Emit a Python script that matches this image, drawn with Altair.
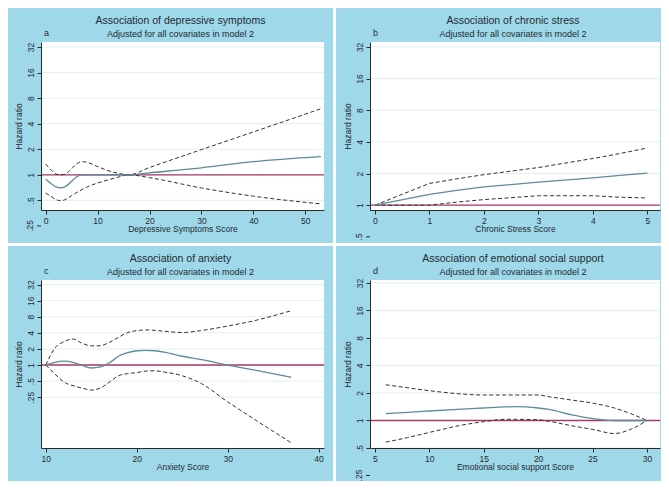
import altair as alt
import pandas as pd

# ---------------- data ----------------
# Panel a: depressive symptoms
a_x  = [0, 1, 2, 3, 4, 5, 6, 7, 8, 10, 12, 14, 16, 20, 30, 40, 53]
a_hr = [0.885, 0.79, 0.72, 0.70, 0.74, 0.84, 0.95, 1.0, 1.0, 1.0, 1.0, 1.0, 1.0, 1.055, 1.21, 1.43, 1.64]
a_lo = [0.61, 0.56, 0.51, 0.495, 0.52, 0.57, 0.62, 0.67, 0.72, 0.80, 0.87, 0.94, 1.0, 0.925, 0.70, 0.56, 0.454]
a_hi = [1.34, 1.15, 1.02, 1.0, 1.04, 1.18, 1.35, 1.43, 1.40, 1.25, 1.12, 1.04, 1.0, 1.22, 1.98, 3.2, 6.0]

# Panel b: chronic stress
b_x  = [0, 1, 1.5, 2, 3, 4, 4.5, 5]
b_hr = [1.0, 1.27, 1.38, 1.49, 1.66, 1.82, 1.92, 2.02]
b_lo = [1.0, 1.0, 1.07, 1.13, 1.23, 1.23, 1.19, 1.17]
b_hi = [1.0, 1.61, 1.78, 1.95, 2.28, 2.78, 3.1, 3.5]

# Panel c: anxiety
c_x  = [10, 11, 12, 13, 14, 15, 16, 17, 18, 19, 20, 21, 22, 23, 25, 27, 30, 33, 37]
c_hr = [1.0, 1.12, 1.18, 1.12, 0.98, 0.88, 0.92, 1.1, 1.46, 1.7, 1.85, 1.88, 1.85, 1.75, 1.46, 1.27, 1.0, 0.8, 0.59]
c_lo = [1.0, 0.68, 0.48, 0.41, 0.37, 0.34, 0.37, 0.48, 0.63, 0.69, 0.72, 0.77, 0.78, 0.74, 0.63, 0.46, 0.205, 0.095, 0.035]
c_hi = [1.0, 2.07, 2.74, 3.06, 2.55, 2.28, 2.3, 2.66, 3.3, 4.05, 4.4, 4.53, 4.45, 4.3, 4.05, 4.4, 5.36, 6.8, 10.4]

# Panel d: emotional social support
d_x  = [6, 8, 10, 13, 15, 17, 18, 20, 21, 23, 25, 27, 28.5, 30]
d_hr = [1.19, 1.23, 1.27, 1.33, 1.37, 1.41, 1.42, 1.37, 1.32, 1.16, 1.05, 1.0, 1.0, 1.0]
d_lo = [0.58, 0.65, 0.74, 0.89, 0.97, 1.03, 1.03, 1.02, 0.98, 0.88, 0.80, 0.72, 0.80, 1.0]
d_hi = [2.46, 2.28, 2.12, 1.95, 1.9, 1.9, 1.9, 1.9, 1.82, 1.68, 1.55, 1.37, 1.19, 1.0]

TITLES = ["Association of depressive symptoms", "Association of chronic stress",
          "Association of anxiety", "Association of emotional social support"]
SUBTITLE = "Adjusted for all covariates in model 2"
LETTERS = ["a", "b", "c", "d"]
XTITLES = ["Depressive Symptoms Score", "Chronic Stress Score",
           "Anxiety Score", "Emotional social support Score"]
Y_TICKS = [0.25, 0.5, 1, 2, 4, 8, 16, 32]
Y_TICK_LABELS = [".25", ".5", "1", "2", "4", "8", "16", "32"]
REF_VALUE = [1]

a_xticks = [0, 10, 20, 30, 40, 50]
b_xticks = [0, 1, 2, 3, 4, 5]
c_xticks = [10, 20, 30, 40]
d_xticks = [5, 10, 15, 20, 25, 30]

# y ticks that Stata draws below the x axis (outside the plot region)
a_below = [0.25]
b_below = [0.5]
c_below = []
d_below = [0.25]

# ---------------- styling ----------------
BG = "#9fd8e8"
GRID = "#e4eef1"
CENTER = "#5b8b98"
REF = "#a8386a"
CI = "#333333"
TXT = "#1f2b33"
AX = "#2b2b2b"
FONT = "Liberation Sans"

T, H, B = 34, 168, 33

label_expr = " : ".join(
    f"datum.value == {v} ? '{l}'" for v, l in zip(Y_TICKS, Y_TICK_LABELS)
) + " : datum.label"


def panel(i, x, hr, lo, hi, xdom, xticks, ydom, below, L, W, R, interp):
    df = pd.DataFrame({"x": x, "hr": hr, "lo": lo, "hi": hi})
    xs = alt.Scale(domain=xdom, nice=False, zero=False)
    ys = alt.Scale(type="log", base=2, domain=ydom, nice=False)
    xax = alt.Axis(values=xticks, grid=False, title=XTITLES[i], titlePadding=0,
                   labelPadding=2, labelFlush=False, zindex=2)
    yax = alt.Axis(values=Y_TICKS, grid=False, title="Hazard ratio", labelAngle=270,
                   labelExpr=label_expr, titlePadding=3, labelPadding=2, zindex=2)

    def X(f):
        return alt.X(f"{f}:Q", scale=xs, axis=xax)

    def Y(f):
        return alt.Y(f"{f}:Q", scale=ys, axis=yax)

    one = pd.DataFrame({"k": [0]})
    bg = alt.Chart(one).mark_rect(fill=BG, strokeWidth=0).encode(
        x=alt.value(-L), x2=alt.value(W + R), y=alt.value(-T), y2=alt.value(H + B))
    white = alt.Chart(one).mark_rect(fill="white", strokeWidth=0).encode(
        x=alt.value(0), x2=alt.value(W), y=alt.value(0), y2=alt.value(H))
    grid = alt.Chart(pd.DataFrame({"g": Y_TICKS})).mark_rule(
        clip=True, color=GRID, strokeWidth=1).encode(y=Y("g"))
    ref = alt.Chart(pd.DataFrame({"r": REF_VALUE})).mark_rule(
        color=REF, strokeWidth=1.3).encode(y=Y("r"))
    lo_l = alt.Chart(df).mark_line(color=CI, strokeWidth=1, strokeDash=[4, 2.5],
                                   interpolate=interp).encode(x=X("x"), y=Y("lo"))
    hi_l = alt.Chart(df).mark_line(color=CI, strokeWidth=1, strokeDash=[4, 2.5],
                                   interpolate=interp).encode(x=X("x"), y=Y("hi"))
    hr_l = alt.Chart(df).mark_line(color=CENTER, strokeWidth=1.3,
                                   interpolate=interp).encode(x=X("x"), y=Y("hr"))
    title = alt.Chart(pd.DataFrame({"t": [TITLES[i]]})).mark_text(
        font=FONT, fontSize=10.5, color=TXT, align="center", baseline="middle").encode(
        x=alt.value(W / 2 - 2), y=alt.value(-21), text="t:N")
    sub = alt.Chart(pd.DataFrame({"t": [SUBTITLE]})).mark_text(
        font=FONT, fontSize=9, color=TXT, align="center", baseline="middle").encode(
        x=alt.value(W / 2 - 2), y=alt.value(-8), text="t:N")
    let = alt.Chart(pd.DataFrame({"t": [LETTERS[i]]})).mark_text(
        font=FONT, fontSize=9, color=TXT, align="left", baseline="middle").encode(
        x=alt.value(3), y=alt.value(-9), text="t:N")
    layers = [bg, white, grid, ref, lo_l, hi_l, hr_l, title, sub, let]
    if below:
        lab = [Y_TICK_LABELS[Y_TICKS.index(v)] for v in below]
        bdf = pd.DataFrame({"v": below, "lab": lab})
        btick = alt.Chart(bdf).mark_rule(color=AX, strokeWidth=1).encode(
            x=alt.value(-4), x2=alt.value(0), y=Y("v"))
        btext = alt.Chart(bdf).mark_text(
            font=FONT, fontSize=8.5, color=TXT, angle=270, align="center",
            baseline="bottom").encode(x=alt.value(-6), y=Y("v"), text="lab:N")
        layers += [btick, btext]
    return alt.layer(*layers).properties(width=W, height=H)


pa = panel(0, a_x, a_hr, a_lo, a_hi, [-0.9, 53.6], a_xticks, [0.385, 36.7], a_below, 33, 283, 9, "monotone")
pb = panel(1, b_x, b_hr, b_lo, b_hi, [-0.09, 5.23], b_xticks, [0.9, 35.6], b_below, 34, 290, 1, "linear")
pc = panel(2, c_x, c_hr, c_lo, c_hi, [9.47, 40.6], c_xticks, [0.028, 39], c_below, 33, 283, 9, "monotone")
pd_ = panel(3, d_x, d_hr, d_lo, d_hi, [4.55, 31.2], d_xticks, [0.5, 34.5], d_below, 34, 290, 1, "monotone")

chart = alt.vconcat(
    alt.hconcat(pa, pb, spacing=3),
    alt.hconcat(pc, pd_, spacing=3),
    spacing=3,
).properties(background="white", padding=0).configure_view(stroke=None).configure_axis(
    domainColor=AX, tickColor=AX, labelColor=TXT, titleColor=TXT,
    labelFont=FONT, titleFont=FONT, labelFontSize=8.5, titleFontSize=8.5,
    titleFontWeight="normal", tickSize=4, domainWidth=1,
)

chart.save("out.html", embed_options={"renderer": "svg", "actions": False})
